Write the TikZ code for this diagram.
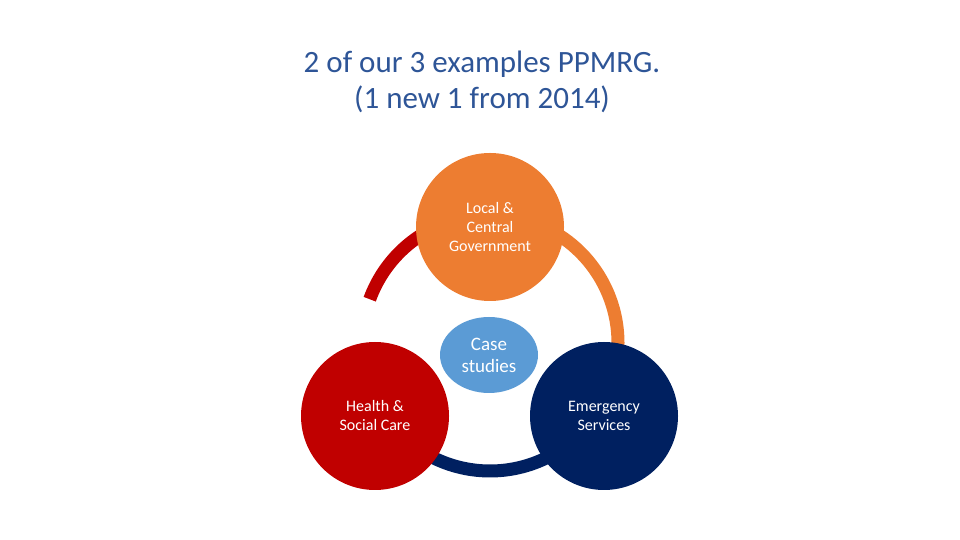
\documentclass[tikz,border=0pt]{standalone}
\usepackage{fontspec}
\setmainfont{Carlito}
\usetikzlibrary{shapes.geometric}
\definecolor{torange}{HTML}{ED7D31}
\definecolor{tred}{HTML}{C00000}
\definecolor{tnavy}{HTML}{002060}
\definecolor{tblue}{HTML}{5B9BD5}
\definecolor{ttitle}{HTML}{2E5597}
\begin{document}
\begin{tikzpicture}[x=1pt,y=1pt,
  bub/.style={circle,minimum size=148pt,inner sep=0pt,text=white,align=center,font=\fontsize{16}{19}\selectfont},
  ring/.style={line width=13pt}]
\useasboundingbox (0,0) rectangle (960,540);
\coordinate (c) at (490,197);
\draw[ring,tred] (c) ++(160:128) arc[start angle=160,end angle=105,radius=128];
\draw[ring,torange] (c) ++(75:128) arc[start angle=75,end angle=-5,radius=128];
\draw[ring,tnavy] (c) ++(-60:128) arc[start angle=-60,end angle=-120,radius=128];
\node[bub,fill=torange] (o) at (490,313) {Local \&\\Central\\Government};
\node[bub,fill=tred] (r) at (375,124) {Health \&\\Social Care};
\node[bub,fill=tnavy] (n) at (604,124) {Emergency\\Services};
\node[ellipse,fill=tblue,minimum width=98pt,minimum height=76pt,inner sep=0pt,text=white,align=center,font=\fontsize{19}{22}\selectfont] (b) at (489,185) {Case\\studies};
\node[text=ttitle,align=center,font=\fontsize{31}{36}\selectfont] (t) at (482,458) {2 of our 3 examples PPMRG.\\(1 new 1 from 2014)};
\end{tikzpicture}
\end{document}
